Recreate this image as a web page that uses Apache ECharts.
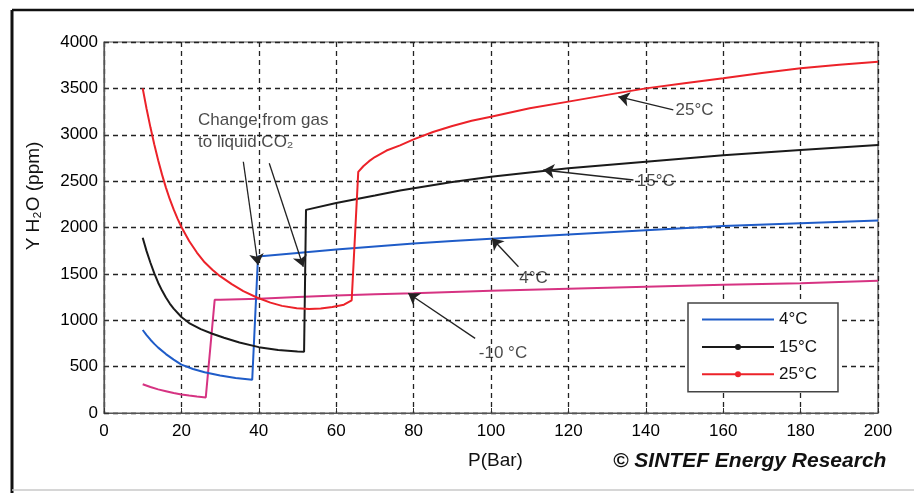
<!DOCTYPE html>
<html><head><meta charset="utf-8">
<script src="https://cdn.jsdelivr.net/npm/echarts@6/dist/echarts.min.js"></script>
<style>html,body{margin:0;padding:0;background:#fff}#c{width:914px;height:493px}</style>
</head><body><div id="c"></div>
<script>
// X axis ticks / Y axis ticks
const xTicks = [0,20,40,60,80,100,120,140,160,180,200];
const yTicks = [0,500,1000,1500,2000,2500,3000,3500,4000];

// -10 °C
const pM10 = [10,12,14,16,18,20,22,24,26.3,28.6,30,40,50,60,70,80,100,120,140,160,180,200];
const yM10 = [310,280,255,235,215,200,188,177,168,1220,1222,1232,1250,1268,1280,1292,1318,1340,1362,1382,1400,1426];
// 4 °C
const p4 = [10,11,12,13,14,16,18,20,23,26,30,34,38.3,39.8,50,60,70,80,90,100,120,140,160,180,200];
const y4 = [895,840,790,745,705,635,575,522,475,440,405,378,358,1688,1725,1762,1795,1828,1855,1880,1925,1970,2015,2045,2075];
// 15 °C
const p15 = [10,11,12,13,14,15,16,17,18,20,22,25,28,31,35,40,45,50,51.7,52.2,60,70,76.5,90,100,120,140,160,180,200];
const y15 = [1890,1745,1620,1505,1405,1320,1245,1180,1125,1035,970,905,855,812,760,710,680,662,660,2190,2265,2345,2400,2490,2548,2638,2710,2780,2836,2890];
// 25 °C
const p25 = [10,11,12,13,14,15,16,17,18,19,20,22,24,26,28,30,33,36,39.5,43,46,49.8,53,56,59,62,64,65.7,67,68.5,70,73,76.5,80,85,90,95,100,110,120,130,140,150,160,170,180,190,200];
const y25 = [3500,3280,3080,2895,2725,2570,2430,2305,2195,2095,2005,1855,1730,1625,1545,1475,1390,1315,1245,1190,1155,1130,1122,1127,1143,1168,1215,2600,2660,2715,2760,2830,2885,2950,3030,3095,3150,3195,3285,3357,3430,3500,3555,3608,3665,3716,3755,3788];

const legendNames = ['4°C','15°C','25°C'];

// annotation arrows (tail -> head), data coordinates
const arrowFrom = [[36.0,2709],[42.7,2692],[147.1,3267],[136.8,2512],[107.1,1577],[95.9,805]];
const arrowTo   = [[39.8,1596],[51.5,1577],[132.9,3410],[113.5,2620],[100.2,1884],[78.6,1291]];
// annotation texts
const noteText = ['Change from gas\nto liquid CO₂','25°C','15°C','4°C','-10 °C'];
const notePos  = [[24.3,3040],[152.6,3267],[142.6,2501],[111.0,1456],[103.1,647]];
const noteAlign = ['left','center','center','center','center'];

const zip = (a,b)=>a.map((v,i)=>[v,b[i]]);
const FONT = '"Liberation Sans", Arial, sans-serif';

const chart = echarts.init(document.getElementById('c'), null, {renderer:'canvas'});
const lineSeries = (name, xs, ys, color, sym) => ({
  name, type:'line', data: zip(xs,ys), showSymbol:false, symbol: sym ? 'circle':'none', symbolSize:6,
  lineStyle:{color, width:2}, itemStyle:{color}, z:3, animation:false, silent:true
});

const option = {
  animation:false,
  backgroundColor:'#fff',
  grid:{left:104, right:36, top:42, bottom:80, show:true, borderColor:'#555', borderWidth:1.2},
  xAxis:{type:'value', min:xTicks[0], max:xTicks[xTicks.length-1], interval:20,
    axisLine:{show:true, onZero:false, lineStyle:{color:'#555', width:1.2}},
    axisTick:{show:true, inside:true, length:5, lineStyle:{color:'#333'}},
    axisLabel:{color:'#000', fontSize:17, fontFamily:FONT, margin:10},
    splitLine:{show:true, lineStyle:{color:'#222', width:1.3, type:[5,4]}}},
  yAxis:{type:'value', min:yTicks[0], max:yTicks[yTicks.length-1], interval:500,
    axisLine:{show:true, onZero:false, lineStyle:{color:'#555', width:1.2}},
    axisTick:{show:true, inside:true, length:5, lineStyle:{color:'#333'}},
    axisLabel:{color:'#000', fontSize:17, fontFamily:FONT, margin:6, formatter:(v)=>String(v)},
    splitLine:{show:true, lineStyle:{color:'#222', width:1.3, type:[5,4]}}},
  legend:{data:[{name:legendNames[0], itemStyle:{opacity:0}}, legendNames[1], legendNames[2]],
    orient:'vertical', left:688, top:303, itemWidth:72, itemHeight:7.5, itemGap:10.4,
    padding:[8,21,9,13], borderColor:'#444', borderWidth:1.5, backgroundColor:'#fff',
    textStyle:{fontSize:17, fontFamily:FONT, color:'#111'}},
  graphic:[
    {type:'line', shape:{x1:12,y1:10,x2:914,y2:10}, style:{stroke:'#111', lineWidth:2.5}},
    {type:'line', shape:{x1:12,y1:10,x2:12,y2:493}, style:{stroke:'#111', lineWidth:3}},
    {type:'line', shape:{x1:12,y1:490,x2:914,y2:490}, style:{stroke:'#c8c8c8', lineWidth:1.5}},
    {type:'text', left:468, top:451, style:{text:'P(Bar)', font:'19px '+FONT, fill:'#111'}},
    {type:'text', left:613, top:451, style:{text:'© SINTEF Energy Research', font:'italic bold 21px '+FONT, fill:'#111'}},
    {type:'text', x:34, y:196, rotation:Math.PI/2, style:{text:'Y H₂O (ppm)', font:'19px '+FONT, fill:'#111', align:'center', verticalAlign:'middle'}}
  ],
  series:[
    lineSeries('-10°C', pM10, yM10, '#d63382', false),
    lineSeries('4°C', p4, y4, '#1f5cc8', false),
    lineSeries('15°C', p15, y15, '#1a1a1a', true),
    lineSeries('25°C', p25, y25, '#ec2229', true),
    {type:'line', data:[], silent:true, z:5,
      markLine:{silent:true, symbol:['none','arrow'], symbolSize:11, label:{show:false},
        lineStyle:{color:'#222', width:1.3, type:'solid'},
        data: arrowFrom.map((f,i)=>[{coord:f},{coord:arrowTo[i]}])}},
    {type:'scatter', symbolSize:0, silent:true, z:6,
      data: notePos.map((p,i)=>({value:p, label:{show:true, position:[0,0], formatter:noteText[i], align:noteAlign[i], verticalAlign:'middle',
        fontSize:17, lineHeight:22, fontFamily:FONT, color:'#1a1a1a'}}))}
  ]
};
chart.setOption(option);
</script></body></html>
